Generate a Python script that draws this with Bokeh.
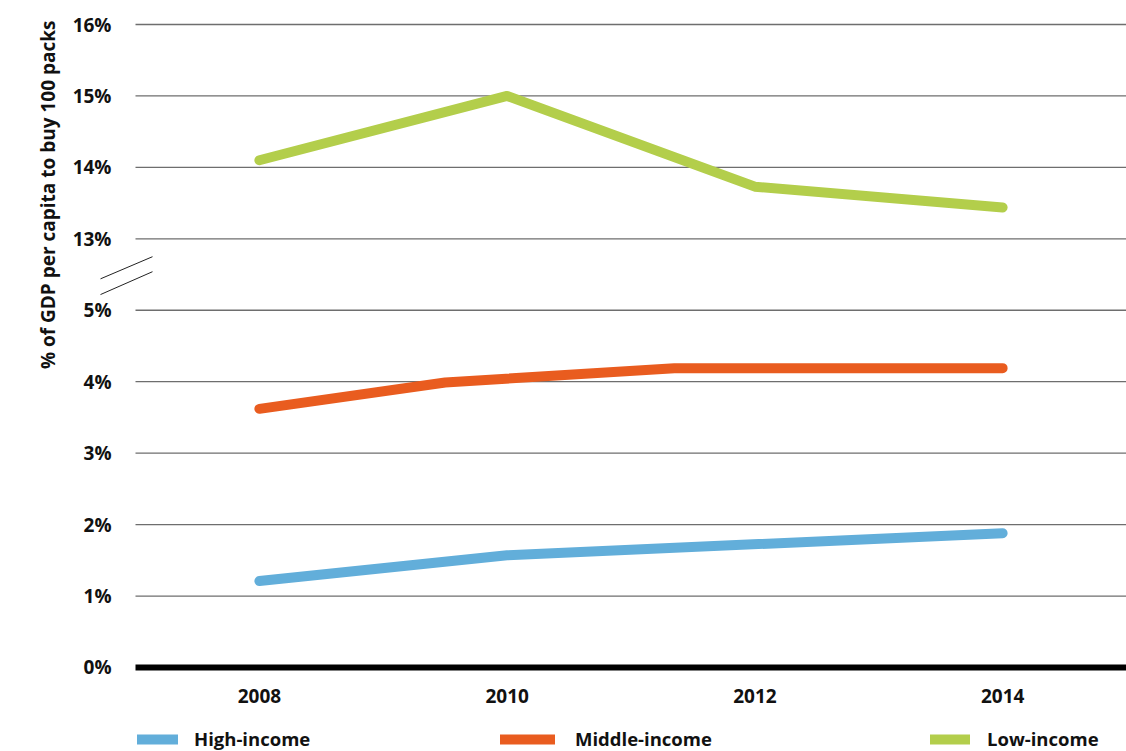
import math
from bokeh.plotting import figure
from bokeh.models import (Range1d, FixedTicker, Title, Legend, LegendItem, ColumnDataSource)
from bokeh.core.properties import value
from bokeh.embed import file_html
from bokeh.resources import INLINE

# ---------------- data ----------------
high_years = [2008, 2010, 2014]
high_vals = [1.21, 1.57, 1.88]

middle_years = [2008, 2009.5, 2011.35, 2014]
middle_vals = [3.62, 3.99, 4.19, 4.19]

low_years = [2008, 2010, 2012, 2014]
low_vals = [14.10, 15.00, 13.73, 13.44]

x_ticks = [2008, 2010, 2012, 2014]
x_tick_labels = ["2008", "2010", "2012", "2014"]

y_tick_values = [0, 1, 2, 3, 4, 5, 13, 14, 15, 16]
y_tick_labels = ["0%", "1%", "2%", "3%", "4%", "5%", "13%", "14%", "15%", "16%"]

series_names = ["High-income", "Middle-income", "Low-income"]
series_colors = ["#62AEDA", "#E95C1F", "#B3CE4B"]

y_title = "% of GDP per capita to buy 100 packs"

# broken axis: values above the break (5 -> 13) are shifted down by 7
BREAK_LOW, BREAK_HIGH = 5, 13
SHIFT = BREAK_HIGH - BREAK_LOW - 1

X_MIN, X_MAX = 2007, 2015      # extent of the plotted area / gridlines


def to_axis(v):
    return v if v <= BREAK_LOW else v - SHIFT


FONT = "Open Sans"
PX_PER_YEAR = 991 / (X_MAX - X_MIN)
X_START = X_MIN - 40 / PX_PER_YEAR   # a little room left of the grid for the break marks

p = figure(width=1126, height=751, output_backend="svg", toolbar_location=None,
           x_axis_location=None,
           x_range=Range1d(X_START, X_MAX), y_range=Range1d(-1.176, 9.056),
           min_border_left=95, min_border_right=0, min_border_top=20, min_border_bottom=0)
p.outline_line_color = None
p.background_fill_color = "white"
p.border_fill_color = "white"
p.xgrid.visible = False
p.ygrid.visible = False

axis_ticks = [to_axis(v) for v in y_tick_values]
p.yaxis.ticker = FixedTicker(ticks=axis_ticks)
p.yaxis.major_label_overrides = {t: lab for t, lab in zip(axis_ticks, y_tick_labels)}
p.yaxis.axis_line_color = None
p.yaxis.major_tick_line_color = None
p.yaxis.minor_tick_line_color = None
p.yaxis.major_label_standoff = -22
p.yaxis.major_label_text_font = FONT
p.yaxis.major_label_text_font_style = "bold"
p.yaxis.major_label_text_font_size = "19px"
p.yaxis.major_label_text_color = "#111111"

# horizontal gridlines (start at the left edge of the data area)
grid_ticks = [t for t in axis_ticks if t != 0]
p.segment(x0=[X_MIN] * len(grid_ticks), x1=[X_MAX] * len(grid_ticks),
          y0=grid_ticks, y1=grid_ticks, line_color="#6e6e6e", line_width=1.3)
# thick zero line
p.segment(x0=[X_MIN], x1=[X_MAX], y0=[0], y1=[0], line_color="black", line_width=6)

renderers = []
for yrs, vals, col in [(high_years, high_vals, series_colors[0]),
                       (middle_years, middle_vals, series_colors[1]),
                       (low_years, low_vals, series_colors[2])]:
    src = ColumnDataSource(dict(x=yrs, y=[to_axis(v) for v in vals]))
    r = p.line("x", "y", source=src, line_color=col, line_width=10,
               line_cap="round", line_join="round")
    renderers.append(r)

# x tick labels (years)
p.text(x=x_ticks, y=[-0.4] * len(x_ticks), text=x_tick_labels,
       text_font=value(FONT), text_font_style="bold", text_font_size="19px",
       text_align="center", text_baseline="middle", text_color="#111111")

# y title, placed at the top of the left side
p.add_layout(Title(text=y_title, align="right", standoff=18, text_font=FONT,
                   text_font_style="bold", text_font_size="19px", text_color="#111111"),
             "left")

# axis-break marks: two short slanted strokes straddling the grid's left edge
brk = BREAK_LOW + 0.5
bx0, bx1 = X_MIN - 35 / PX_PER_YEAR, X_MIN + 17 / PX_PER_YEAR
p.segment(x0=[bx0, bx0], x1=[bx1, bx1],
          y0=[brk - 0.06, brk - 0.28], y1=[brk + 0.25, brk + 0.04],
          line_color="#222222", line_width=1)

# legends (three separate, positioned along the bottom)
legend_specs = [(42, 41, 16), (405, 55, 20), (835, 40, 17)]
for r, name, (lx, gw, so) in zip(renderers, series_names, legend_specs):
    lg = Legend(items=[LegendItem(label=name, renderers=[r])], location=(lx, 0),
                orientation="horizontal", padding=0, margin=0, spacing=0,
                glyph_width=gw, glyph_height=20, label_standoff=so,
                border_line_color=None, background_fill_alpha=0,
                label_text_font=FONT, label_text_font_style="bold",
                label_text_font_size="18.5px", label_text_color="#111111",
                label_text_baseline="middle")
    p.add_layout(lg)

open("out.html", "w").write(file_html(p, INLINE))
